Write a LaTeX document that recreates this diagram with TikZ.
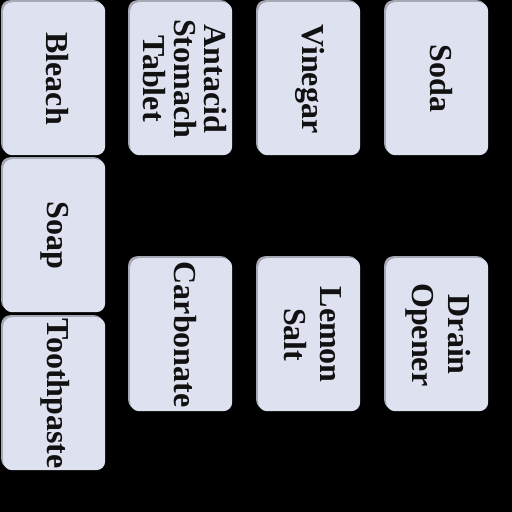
\documentclass[tikz,border=0pt]{standalone}
\usepackage{fontspec}
\setmainfont{Liberation Serif}
\usetikzlibrary{shadows}
\definecolor{boxfill}{HTML}{DEE1EF}
\definecolor{boxshadow}{HTML}{A7A8B6}
\definecolor{inkc}{HTML}{111111}
\newcommand{\cardtext}[1]{\rotatebox[origin=c]{-90}{\begin{tabular}{@{}c@{}}#1\end{tabular}}}
\begin{document}
\begin{tikzpicture}[x=1pt,y=1pt,
  card/.style={rectangle, rounded corners=9pt, fill=boxfill,
    minimum width=102pt, minimum height=153pt, inner sep=0pt,
    anchor=north west,
    general shadow={fill=boxshadow, shadow xshift=-2pt, shadow yshift=2pt},
    font=\fontsize{32}{36}\selectfont\bfseries, text=inkc}]
\fill[black] (0,0) rectangle (512,512);
\useasboundingbox (0,0) rectangle (512,512);
\node[card] (bleach) at (3,510) {\cardtext{Bleach}};
\node[card] (antacid) at (130,510) {\fontsize{32}{28}\selectfont\cardtext{Antacid\\Stomach\\Tablet}};
\node[card] (vinegar) at (258,510) {\cardtext{Vinegar}};
\node[card] (soda) at (386,510) {\cardtext{Soda}};
\node[card] (soap) at (3,353) {\cardtext{Soap}};
\node[card] (toothpaste) at (3,195) {\cardtext{Toothpaste}};
\node[card] (carbonate) at (130,254) {\cardtext{Carbonate}};
\node[card] (lemonsalt) at (258,254) {\cardtext{Lemon\\Salt}};
\node[card] (drainopener) at (386,254) {\cardtext{Drain\\Opener}};
\end{tikzpicture}
\end{document}
